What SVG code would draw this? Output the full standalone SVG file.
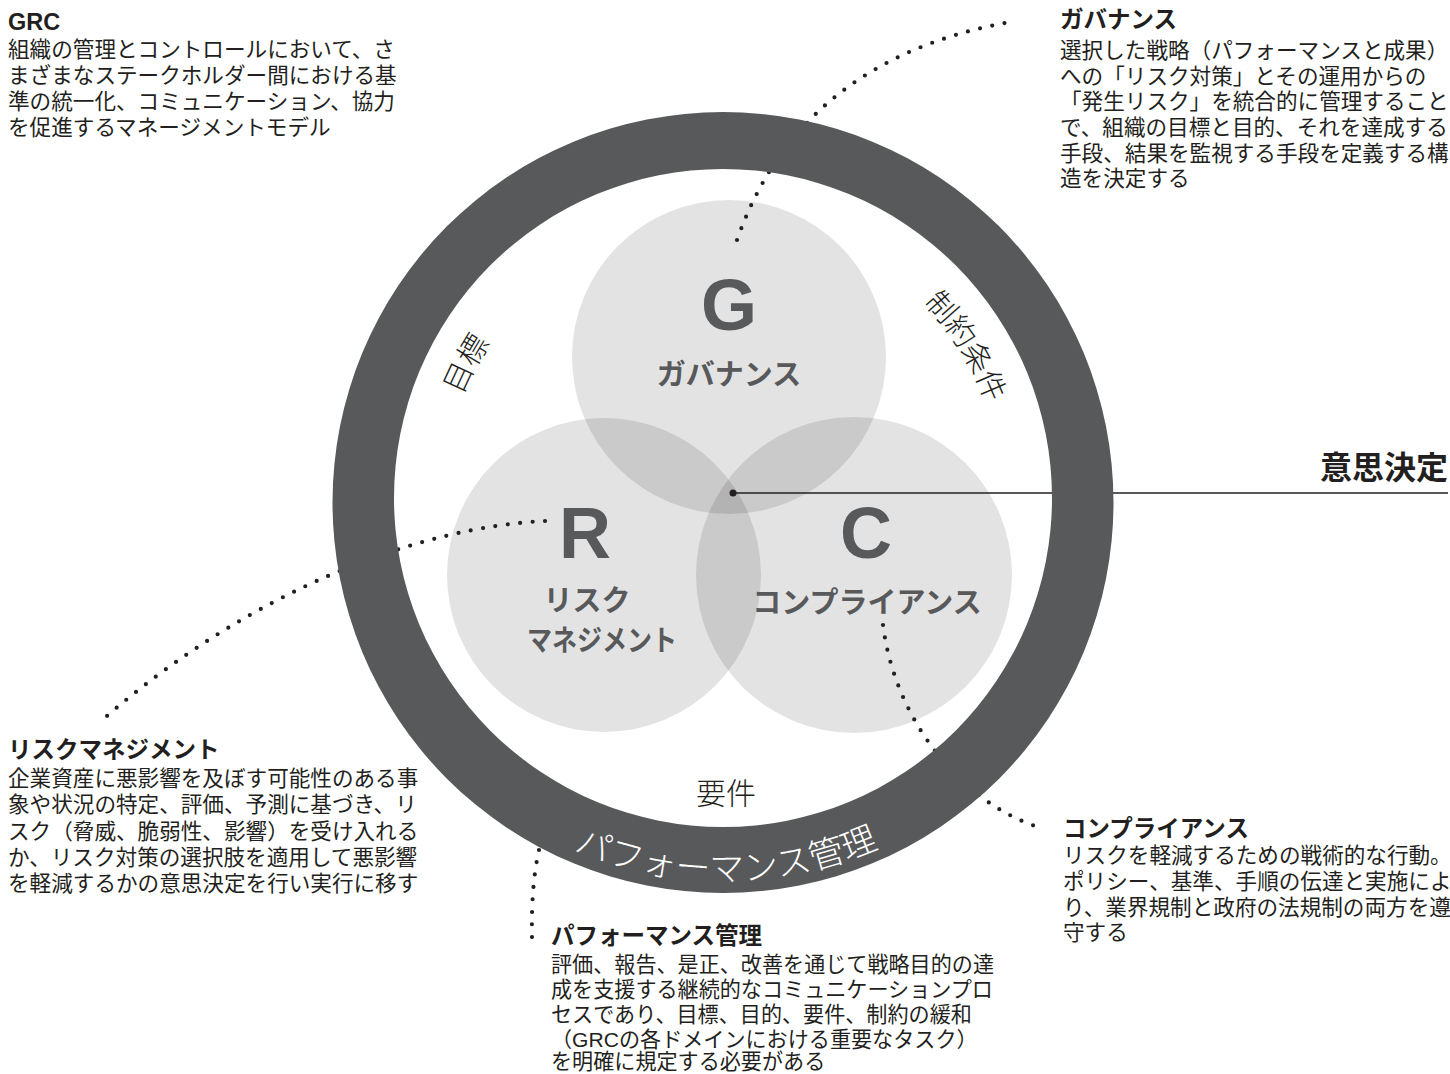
<svg xmlns="http://www.w3.org/2000/svg" width="1450" height="1074" viewBox="0 0 1450 1074">
<style>
text{font-family:"Liberation Sans","Noto Sans CJK JP",sans-serif;fill:#231f20}
.h{font-weight:bold;font-size:23.5px}
.b{font-size:21.6px}
.bp{font-size:21.1px}
.big{font-weight:bold;font-size:72px;fill:#58595b;text-anchor:middle}
.cl{font-weight:bold;font-size:29px;fill:#58595b;text-anchor:middle}
.rl{font-size:30px;font-weight:300}
.pm{font-size:35px;font-weight:300;fill:#ffffff}
.venn{fill:#000000;fill-opacity:0.11}
.dot{fill:none;stroke:#231f20;stroke-width:4.2;stroke-linecap:round;stroke-dasharray:0 12.5}
</style>
<defs>
<path id="cw" d="M442,500 A281,281 0 1 1 1004,500 A281,281 0 1 1 442,500"/>
<path id="bot" d="M342,500 A381,381 0 0 0 1104,500"/>
</defs>
<rect width="1450" height="1074" fill="#ffffff"/>

<g id="venn">
<g id="node-g"><circle class="venn" cx="729" cy="357" r="157"/></g>
<g id="node-r"><circle class="venn" cx="604" cy="575" r="157"/></g>
<g id="node-c"><circle class="venn" cx="854" cy="575" r="158"/></g>
</g>

<g id="connectors">
<path class="dot" d="M737,240 Q800,60 1010,22"/>
<path class="dot" d="M545,521 C420,527 250,590 100,722"/>
<path class="dot" d="M883,625 C895,720 960,800 1035,826"/>
<path class="dot" d="M539,850 Q531,885 532,938"/>
<line x1="733" y1="493" x2="1448" y2="493" stroke="#231f20" stroke-width="1.5"/>
<circle cx="733" cy="493" r="3.5" fill="#231f20"/>
</g>

<g id="ring">
<path fill="#58595b" fill-rule="evenodd" d="M332.5,502.5 A390.5,390.5 0 1 1 1113.5,502.5 A390.5,390.5 0 1 1 332.5,502.5 Z M394,498 A329,329 0 1 0 1052,498 A329,329 0 1 0 394,498 Z"/>
<text class="rl"><textPath href="#cw" startOffset="137" text-anchor="middle">目標</textPath></text>
<text class="rl"><textPath href="#cw" startOffset="724" text-anchor="middle">制約条件</textPath></text>
<text class="rl" x="726" y="804" text-anchor="middle">要件</text>
<text class="pm"><textPath href="#bot" startOffset="50.3%" text-anchor="middle">パフォーマンス管理</textPath></text>
</g>

<g id="label-g">
<text class="big" x="729" y="330">G</text>
<text class="cl" x="729" y="385">ガバナンス</text>
</g>
<g id="label-r">
<text class="big" x="585" y="558">R</text>
<text class="cl" x="587" y="611">リスク</text>
<text class="cl" x="602" y="651" textLength="150" lengthAdjust="spacingAndGlyphs">マネジメント</text>
</g>
<g id="label-c">
<text class="big" x="866" y="558">C</text>
<text class="cl" x="867" y="613">コンプライアンス</text>
</g>

<g id="decision">
<text x="1448" y="479" font-size="32" font-weight="bold" text-anchor="end">意思決定</text>
</g>

<g id="grc">
<text class="h" x="8" y="30">GRC</text>
<text class="b" x="8" y="57">組織の管理とコントロールにおいて、さ</text>
<text class="b" x="8" y="83">まざまなステークホルダー間における基</text>
<text class="b" x="8" y="109">準の統一化、コミュニケーション、協力</text>
<text class="b" x="8" y="135">を促進するマネージメントモデル</text>
</g>

<g id="governance">
<text class="h" x="1060" y="28">ガバナンス</text>
<text class="b" x="1060" y="58">選択した戦略（パフォーマンスと成果）</text>
<text class="b" x="1060" y="84">への「リスク対策」とその運用からの</text>
<text class="b" x="1060" y="109">「発生リスク」を統合的に管理すること</text>
<text class="b" x="1060" y="135">で、組織の目標と目的、それを達成する</text>
<text class="b" x="1060" y="161">手段、結果を監視する手段を定義する構</text>
<text class="b" x="1060" y="186">造を決定する</text>
</g>

<g id="risk">
<text class="h" x="8" y="758">リスクマネジメント</text>
<text class="b" x="8" y="786">企業資産に悪影響を及ぼす可能性のある事</text>
<text class="b" x="8" y="812">象や状況の特定、評価、予測に基づき、リ</text>
<text class="b" x="8" y="839">スク（脅威、脆弱性、影響）を受け入れる</text>
<text class="b" x="8" y="865">か、リスク対策の選択肢を適用して悪影響</text>
<text class="b" x="8" y="891">を軽減するかの意思決定を行い実行に移す</text>
</g>

<g id="compliance">
<text class="h" x="1063" y="837">コンプライアンス</text>
<text class="b" x="1063" y="863">リスクを軽減するための戦術的な行動。</text>
<text class="b" x="1063" y="889">ポリシー、基準、手順の伝達と実施によ</text>
<text class="b" x="1063" y="915">り、業界規制と政府の法規制の両方を遵</text>
<text class="b" x="1063" y="940">守する</text>
</g>

<g id="performance">
<text class="h" x="551" y="944">パフォーマンス管理</text>
<text class="bp" x="551" y="972">評価、報告、是正、改善を通じて戦略目的の達</text>
<text class="bp" x="551" y="997">成を支援する継続的なコミュニケーションプロ</text>
<text class="bp" x="551" y="1022">セスであり、目標、目的、要件、制約の緩和</text>
<text class="bp" x="551" y="1047">（GRCの各ドメインにおける重要なタスク）</text>
<text class="bp" x="551" y="1069">を明確に規定する必要がある</text>
</g>
</svg>
